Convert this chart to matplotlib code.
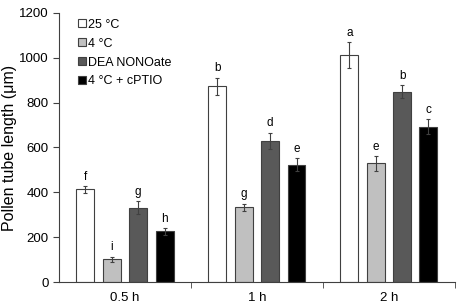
import numpy as np
import matplotlib.pyplot as plt

plt.rcParams['font.family'] = ['Liberation Sans', 'DejaVu Sans']

groups = ['0.5 h', '1 h', '2 h']
series = ['25 °C', '4 °C', 'DEA NONOate', '4 °C + cPTIO']
colors = ['#ffffff', '#c0c0c0', '#595959', '#000000']

values = [
    [413, 874, 1012],   # 25 °C
    [101, 334, 529],    # 4 °C
    [331, 630, 849],    # DEA NONOate
    [226, 523, 693],    # 4 °C + cPTIO
]
errors = [
    [15, 38, 58],
    [12, 16, 32],
    [29, 36, 30],
    [15, 30, 34],
]
letters = [
    ['f', 'b', 'a'],
    ['i', 'g', 'e'],
    ['g', 'd', 'b'],
    ['h', 'e', 'c'],
]

fig = plt.figure(figsize=(4.58, 3.05), dpi=100)
ax = fig.add_axes([0.129, 0.0754, 0.864, 0.882])

x = np.arange(len(groups))
step = 0.2
width = 0.136
for i, name in enumerate(series):
    pos = x + (i - 1.5) * step
    ax.bar(pos, values[i], width, color=colors[i], edgecolor='#404040', linewidth=0.8,
           label=name, yerr=errors[i], error_kw=dict(ecolor='#404040', elinewidth=0.8,
                                                       capsize=1.5, capthick=0.8))
    for p, v, e, t in zip(pos, values[i], errors[i], letters[i]):
        ax.text(p, v + e + 15, t, ha='center', va='bottom', fontsize=8.5)

ax.set_xlim(-0.5, 2.5)
ax.set_ylim(0, 1200)
ax.set_yticks(range(0, 1201, 200))
ax.set_xticks(x)
ax.set_xticklabels(groups, fontsize=9.5)
ax.set_xticks([0.5, 1.5, 2.5], minor=True)
ax.tick_params(axis='x', which='major', length=0, pad=7)
ax.tick_params(axis='x', which='minor', length=4, direction='out', color='#404040')
ax.tick_params(axis='y', labelsize=9.5, length=4, direction='out', color='#404040')
for s in ['top', 'right']:
    ax.spines[s].set_visible(False)
for s in ['left', 'bottom']:
    ax.spines[s].set_color('#404040')
    ax.spines[s].set_linewidth(0.8)
fig.text(0.004, 0.515, 'Pollen tube length (μm)', rotation=90, ha='left', va='center',
         fontsize=11.5)

ax.legend(loc='upper left', bbox_to_anchor=(0.02, 1.02), frameon=False, fontsize=9,
          handlelength=0.6, handleheight=0.6, handletextpad=0.2, labelspacing=0.55)

fig.savefig('out.png', dpi=100)
